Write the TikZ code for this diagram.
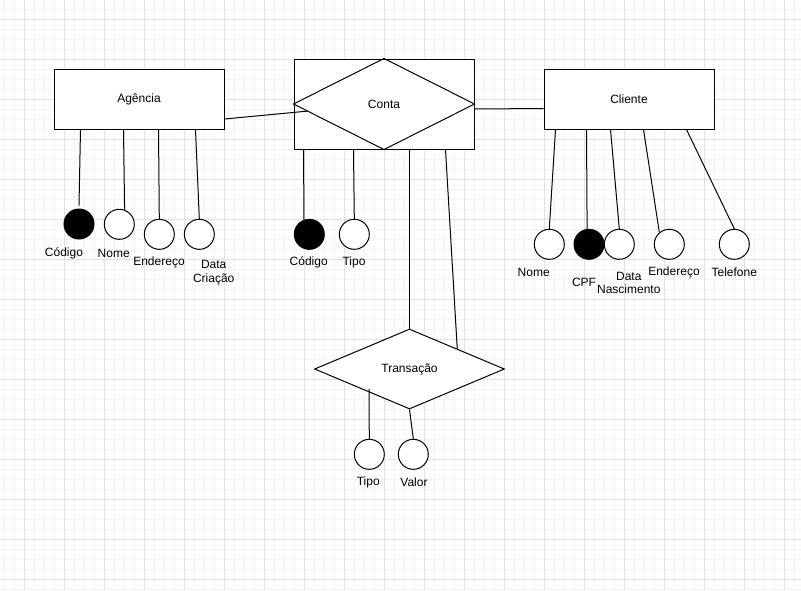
\documentclass[tikz,border=0pt]{standalone}
\usepackage{fontspec}
\setmainfont{Liberation Sans}
\usetikzlibrary{shapes.geometric,calc}
\definecolor{gridminor}{RGB}{244,244,244}
\definecolor{gridmajor}{RGB}{226,226,226}
\tikzset{
  conn/.style={line width=1pt,draw=black},
  entity/.style={draw,line width=1pt,fill=white,minimum width=170pt,minimum height=60pt,inner sep=0pt},
  assoc/.style={draw,line width=1pt,fill=white,minimum width=180pt,minimum height=90pt,inner sep=0pt},
  rel/.style={draw,line width=1pt,fill=white,shape=diamond,minimum width=190pt,minimum height=80pt,inner sep=0pt},
  attr/.style={draw,line width=1pt,fill=white,shape=circle,minimum size=30pt,inner sep=0pt},
  keyattr/.style={attr,fill=black},
  lbl/.style={inner sep=0pt,align=center}
}
\begin{document}
\begin{tikzpicture}[x=1pt,y=-1pt,every node/.append style={font=\fontsize{12}{13.4}\selectfont}]
\useasboundingbox (0,0) rectangle (801,590);
\fill[white] (0,0) rectangle (801,590);
% grid
\foreach \x in {4,14,...,794} \draw[gridminor,line width=1pt] (\x,0) -- (\x,590);
\foreach \y in {9,19,...,589} \draw[gridminor,line width=1pt] (0,\y) -- (801,\y);
\foreach \x in {24,64,...,784} \draw[gridmajor,line width=1pt] (\x,0) -- (\x,590);
\foreach \y in {19,59,...,579} \draw[gridmajor,line width=1pt] (0,\y) -- (801,\y);

% main shapes
\node[entity] (ag) at (139,99) {Agência};
\node[entity] (cl) at (629,99) {Cliente};
\node[assoc] (co) at (384,104) {Conta};
\draw[line width=1pt] (co.west) -- (co.north) -- (co.east) -- (co.south) -- cycle;
\node[rel] (tr) at (409.5,369) {Transação};

% attribute circles
\node[keyattr] (agA) at (79,224) {};
\node[attr] (agB) at (119.3,224.3) {};
\node[attr] (agC) at (159.3,234.3) {};
\node[attr] (agD) at (199.3,234.3) {};
\node[keyattr] (coA) at (309.3,234.3) {};
\node[attr] (coB) at (354.3,234.3) {};
\node[attr] (clA) at (549.3,244.3) {};
\node[keyattr] (clB) at (589,244.3) {};
\node[attr] (clC) at (619.3,244.3) {};
\node[attr] (clD) at (669.3,244.3) {};
\node[attr] (clE) at (734.3,244.3) {};
\node[attr] (trA) at (369.3,454.3) {};
\node[attr] (trB) at (413.3,454.3) {};

% connectors
\draw[conn] ($(ag.east)+(0,20)$) -- ($(co.west)!0.156!(co.south)$);
\draw[conn] ($(co.east)+(0,5)$) -- ($(cl.west)+(0,9.5)$);

\draw[conn] ([xshift=27pt]ag.south west) -- ([yshift=3pt]agA.north);
\draw[conn] ([xshift=70pt]ag.south west) -- (agB.70);
\draw[conn] ([xshift=105pt]ag.south west) -- (agC.north);
\draw[conn] ([xshift=142pt]ag.south west) -- (agD.north);

\draw[conn] ([xshift=10pt]co.south west) -- (coA.110);
\draw[conn] ([xshift=60pt]co.south west) -- (coB.north);
\draw[conn] ([xshift=116pt]co.south west) -- (tr.north);
\draw[conn] ([xshift=152pt]co.south west) -- (tr.north east);

\draw[conn] ([xshift=12pt]cl.south west) -- (clA.north);
\draw[conn] ([xshift=43pt]cl.south west) -- (clB.97);
\draw[conn] ([xshift=67pt]cl.south west) -- (clC.north);
\draw[conn] ([xshift=100pt]cl.south west) -- (clD.130);
\draw[conn] ([xshift=143pt]cl.south west) -- (clE.north);

\draw[conn] ($(tr.center)+(-40.5,20)$) -- (trA.north);
\draw[conn] (tr.south) -- (trB.north);

% labels
\node[lbl] (lAgA) at (64,253) {Código};
\node[lbl] (lAgB) at (113.7,253) {Nome};
\node[lbl] (lAgC) at (159,262.7) {Endereço};
\node[lbl] (lAgD) at (213.7,272.7) {Data\\Criação};
\node[lbl] (lCoA) at (308.7,262.7) {Código};
\node[lbl] (lCoB) at (354,262.7) {Tipo};
\node[lbl] (lClA) at (533.7,272.7) {Nome};
\node[lbl] (lClB) at (584,282.3) {CPF};
\node[lbl] (lClC) at (628.8,282.7) {Data\\Nascimento};
\node[lbl] (lClD) at (674,272.7) {Endereço};
\node[lbl] (lClE) at (734.3,272.7) {Telefone};
\node[lbl] (lTrA) at (368.3,482.7) {Tipo};
\node[lbl] (lTrB) at (414,482.7) {Valor};
\end{tikzpicture}
\end{document}
